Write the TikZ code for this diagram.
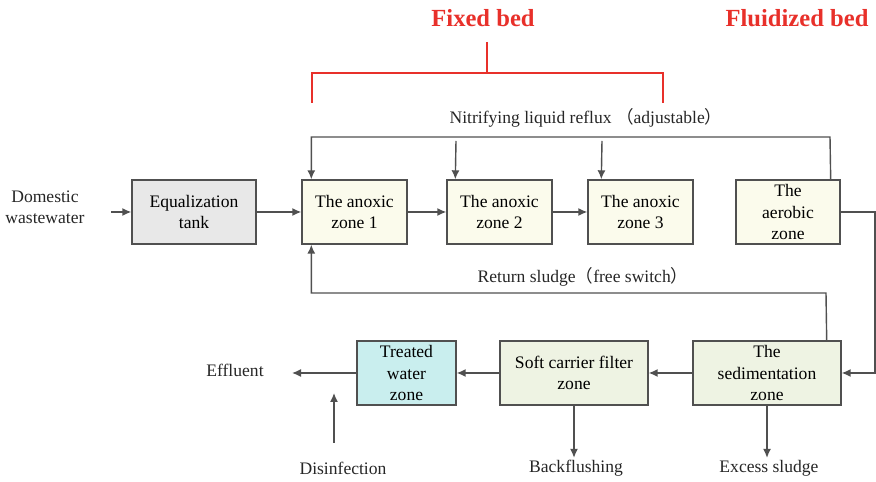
\documentclass[tikz,border=0pt]{standalone}
\usepackage{fontspec}
\setmainfont{Liberation Serif}
\newfontfamily\cjk{Noto Sans CJK SC}
\usetikzlibrary{arrows.meta}

\definecolor{lineGray}{HTML}{505050}
\definecolor{eqFill}{HTML}{E8E8E8}
\definecolor{anoxFill}{HTML}{FBFBEC}
\definecolor{sedFill}{HTML}{EEF3E3}
\definecolor{treatFill}{HTML}{C9EEEE}
\definecolor{bedRed}{HTML}{E8302A}

\tikzset{
  zone/.style={draw=lineGray, line width=0.8pt, align=center,
    minimum height=1.28cm, inner sep=2pt, font=\fontsize{10}{12}\selectfont},
  flow/.style={draw=lineGray, line width=0.8pt, -{Latex[length=1.8mm,width=1.6mm]}},
  txt/.style={align=center, inner sep=1pt, text=black!85, font=\fontsize{10}{12}\selectfont},
  bed/.style={text=bedRed, font=\fontsize{14}{16}\selectfont\bfseries},
  bracket/.style={draw=bedRed, line width=1.6pt}
}

\begin{document}
\begin{tikzpicture}[x=0.02cm, y=-0.02cm]
    \useasboundingbox (0,0) rectangle (876,482);

    % bed labels
    \node[bed] (fixed) at (483,18) {Fixed bed};
    \node[bed] (fluid) at (797,18) {Fluidized bed};
    \draw[bracket] (312,103) -- (312,73) -- (663,73) -- (663,103);
    \draw[bracket] (487,42) -- (487,73);

    % upper row
    \node[txt] (dw) at (45,207) {Domestic\\wastewater};
    \node[zone, fill=eqFill, minimum width=2.48cm] (eq) at (194,212) {Equalization\\tank};
    \node[zone, fill=anoxFill, minimum width=2.1cm] (a1) at (354.5,212) {The anoxic\\zone 1};
    \node[zone, fill=anoxFill, minimum width=2.1cm] (a2) at (499.5,212) {The anoxic\\zone 2};
    \node[zone, fill=anoxFill, minimum width=2.1cm] (a3) at (640.5,212) {The anoxic\\zone 3};
    \node[zone, fill=anoxFill, minimum width=2.08cm] (aer) at (788,212) {The\\aerobic\\zone};

    % lower row
    \node[zone, fill=sedFill, minimum width=2.96cm] (sed) at (767,373) {The\\sedimentation\\zone};
    \node[zone, fill=sedFill, minimum width=2.96cm] (soft) at (574,373) {Soft carrier filter\\zone};
    \node[zone, fill=treatFill, minimum width=1.98cm] (treat) at (406.5,373) {Treated\\water\\zone};
    \node[txt] (eff) at (235,370) {Effluent};
    \node[txt] (dis) at (343,468) {Disinfection};
    \node[txt] (bf) at (576,468) {Backflushing};
    \node[txt] (ex) at (769,468) {Excess sludge};

    % reflux labels
    \node[txt] (nlr) at (586,118) {Nitrifying liquid reflux {\cjk （}adjustable{\cjk ）}};
    \node[txt] (rsl) at (583,277) {Return sludge{\cjk （}free switch{\cjk ）}};

    \coordinate (inlet) at (111,212);
    \coordinate (nr) at (830,137);
    \coordinate (rs) at (826,293);
    \coordinate (ar) at (875,212);
    \coordinate (outlet) at (292,373);
    \coordinate (dosing) at (334,443);

    % main flow
    \draw[flow] (inlet) -- (eq);
    \draw[flow] (eq) -- (a1);
    \draw[flow] (a1) -- (a2);
    \draw[flow] (a2) -- (a3);
    \draw[flow] (aer.east) -- (ar) |- (sed.east);
    \draw[flow] (sed) -- (soft);
    \draw[flow] (soft) -- (treat);
    \draw[flow] (treat.west) -- (outlet);
    \draw[flow] (dosing) -- (334,393);
    \draw[flow] (soft.south) -- (soft.south |- bf.north);
    \draw[flow] (sed.south) -- (sed.south |- ex.north);

    % nitrifying liquid reflux
    \draw[flow] ([xshift=-0.2cm]aer.north east) -- (nr) -| ([xshift=0.2cm]a1.north west);
    \draw[flow] (456,141) -- ([xshift=0.18cm]a2.north west);
    \draw[flow] (602,141) -- ([xshift=0.28cm]a3.north west);

    % return sludge
    \draw[flow] ([xshift=-0.3cm]sed.north east) -- (rs) -| ([xshift=0.2cm]a1.south west);
\end{tikzpicture}
\end{document}
